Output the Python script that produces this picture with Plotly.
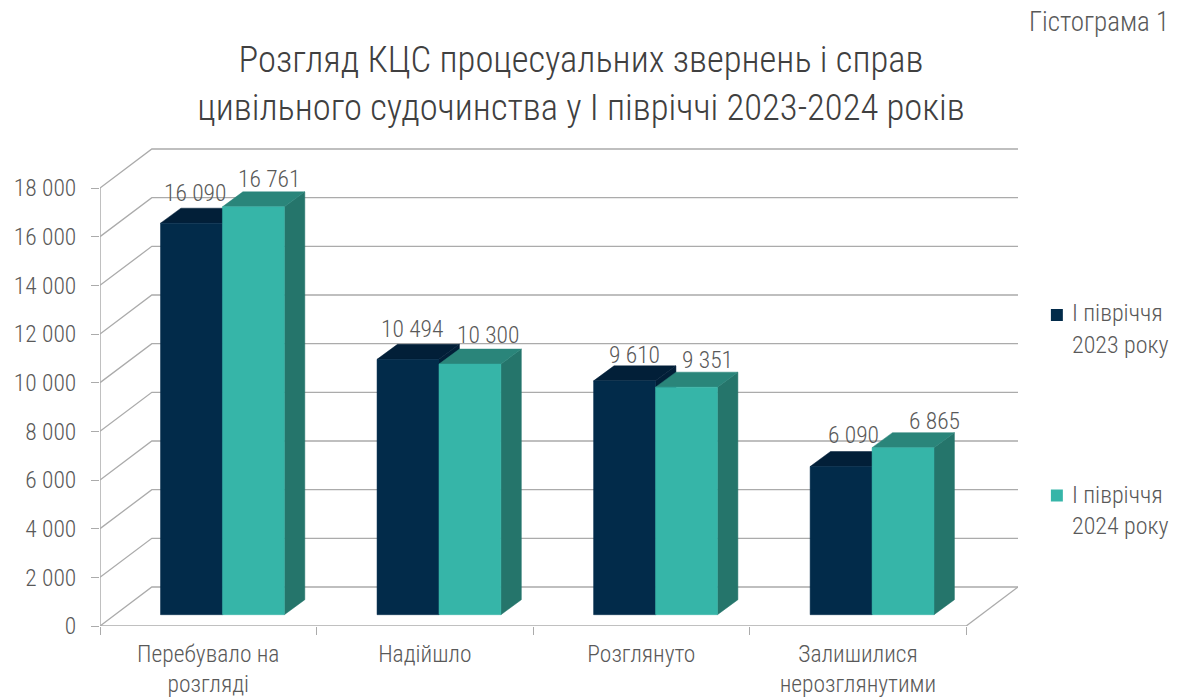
import plotly.graph_objects as go

# ---- data ----
categories = ["Перебувало на<br>розгляді", "Надійшло", "Розглянуто", "Залишилися<br>нерозглянутими"]
series_2023 = [16090, 10494, 9610, 6090]
series_2024 = [16761, 10300, 9351, 6865]
name_2023 = "І півріччя<br>2023 року"
name_2024 = "І півріччя<br>2024 року"
y_ticks = [0, 2000, 4000, 6000, 8000, 10000, 12000, 14000, 16000, 18000]
y_tick_text = ["0", "2 000", "4 000", "6 000", "8 000", "10 000", "12 000", "14 000", "16 000", "18 000"]
title_text = "Розгляд КЦС процесуальних звернень і справ<br>цивільного судочинства у І півріччі 2023-2024 років"
corner_text = "Гістограма 1"
# manual label nudges (px) for each bar's data label
label_dx_2023 = [4, 4, 10, 12]
label_dy_2023 = [30, 30, 26, 32]
label_dx_2024 = [16, 18, 21, 31]
label_dy_2024 = [28, 29, 27, 27]

# ---- style ----
FONT = "Roboto Condensed, Roboto, sans-serif"
WEIGHT = 300
TEXT = "#595959"
GRID = "#ABABAB"
NAVY, NAVY_TOP, NAVY_SIDE = "#022B4A", "#021F38", "#021F38"
TEAL, TEAL_TOP, TEAL_SIDE = "#36B5A8", "#2A857A", "#25756B"

W, H = 1186, 699
M_L, M_R, M_T, M_B = 100, 165, 148, 73
PW, PH = W - M_L - M_R, H - M_T - M_B
PX_PER_CAT = 217.25
PX_PER_UNIT = 438 / 18000
XMAX = PW / PX_PER_CAT
YMAX = PH / PX_PER_UNIT

def ux(px): return px / PX_PER_CAT
def uy(px): return px / PX_PER_UNIT

WALL_DX, WALL_DY = ux(52), uy(39)
FLOOR_DX, FLOOR_DY = 0.0, uy(11.3)
BAR_DX, BAR_DY = ux(20.5), uy(15)
GROUP_START, BAR_W = 0.2794, 0.2860

fig = go.Figure()

# walls + floor grid
gx, gy = [], []
for v in y_ticks:
    gx += [0, WALL_DX, XMAX, None]
    gy += [v, v + WALL_DY, v + WALL_DY, None]
gx += [4, XMAX, None]
gy += [0, WALL_DY, None]
fig.add_trace(go.Scatter(x=gx, y=gy, mode="lines", line=dict(color=GRID, width=1.3),
                         showlegend=False, hoverinfo="skip"))
# axis lines
fig.add_trace(go.Scatter(x=[0, 0, None, 0, 4], y=[0, y_ticks[-1], None, 0, 0], mode="lines",
                         line=dict(color=GRID, width=1.5), showlegend=False, hoverinfo="skip", cliponaxis=False))

def faces(values, slot):
    fx, fy, tx, ty, sx, sy = [], [], [], [], [], []
    for i, v in enumerate(values):
        x0 = i + GROUP_START + slot * BAR_W + FLOOR_DX
        x1 = x0 + BAR_W
        y0 = FLOOR_DY
        y1 = FLOOR_DY + v
        fx += [x0, x1, x1, x0, x0, None]
        fy += [y0, y0, y1, y1, y0, None]
        tx += [x0, x1, x1 + BAR_DX, x0 + BAR_DX, x0, None]
        ty += [y1, y1, y1 + BAR_DY, y1 + BAR_DY, y1, None]
        sx += [x1, x1 + BAR_DX, x1 + BAR_DX, x1, x1, None]
        sy += [y0, y0 + BAR_DY, y1 + BAR_DY, y1, y0, None]
    return (fx, fy), (tx, ty), (sx, sy)

def add_face(xy, color):
    fig.add_trace(go.Scatter(x=xy[0], y=xy[1], mode="lines", fill="toself", fillcolor=color,
                             line=dict(color=color, width=0.5), showlegend=False, hoverinfo="skip"))

for values, slot, cols in [(series_2023, 0, (NAVY, NAVY_TOP, NAVY_SIDE)),
                           (series_2024, 1, (TEAL, TEAL_TOP, TEAL_SIDE))]:
    front, top, side = faces(values, slot)
    add_face(side, cols[2])
    add_face(top, cols[1])
    add_face(front, cols[0])

# legend entries (native text; the swatch sits beside the first line, so it is a shape below)
for nm in [name_2023, name_2024]:
    fig.add_trace(go.Scatter(x=[None], y=[None], mode="markers", name=nm, legendgroup=nm,
                             marker=dict(symbol="square", size=12, color="rgba(0,0,0,0)", line=dict(width=0))))

def px_x(p): return (p - M_L) / PW
def px_y(p): return (H - M_B - p) / PH

for col, top in [(NAVY, 309), (TEAL, 489.5)]:
    fig.add_shape(type="rect", xref="paper", yref="paper", x0=px_x(1054), x1=px_x(1066),
                  y0=px_y(top + 12), y1=px_y(top), fillcolor=col, line=dict(width=0))

# data labels
for values, slot, dxs, dys in [(series_2023, 0, label_dx_2023, label_dy_2023),
                               (series_2024, 1, label_dx_2024, label_dy_2024)]:
    for i, v in enumerate(values):
        fig.add_annotation(x=i + GROUP_START + (slot + 0.5) * BAR_W, y=FLOOR_DY + v, text=f"{v:,}".replace(",", " "),
                           showarrow=False, xshift=dxs[i], yshift=dys[i], xanchor="center", yanchor="middle",
                           font=dict(family=FONT, size=23.5, color=TEXT, weight=WEIGHT))

fig.add_annotation(xref="paper", yref="paper", x=px_x(1175), y=px_y(22), text=corner_text,
                   showarrow=False, xanchor="right", yanchor="middle", font=dict(family=FONT, size=27, color=TEXT, weight=WEIGHT))

fig.update_layout(
    width=W, height=H, autosize=False,
    margin=dict(l=M_L, r=M_R, t=M_T, b=M_B),
    paper_bgcolor="white", plot_bgcolor="white",
    title=dict(text=title_text, x=581 / W, xanchor="center", y=1 - 72 / H, yanchor="middle", automargin=False,
               font=dict(family=FONT, size=36.6, color="#404040", weight=WEIGHT)),
    xaxis=dict(range=[0, XMAX], showgrid=False, zeroline=False, showline=False, automargin=False,
               tickmode="array", tickvals=[i + 0.5 for i in range(len(categories))], ticktext=categories,
               ticks="", tickfont=dict(family=FONT, size=23.5, color=TEXT, weight=WEIGHT), ticklabelstandoff=11,
               minor=dict(tickmode="array", tickvals=list(range(len(categories) + 1)), ticks="outside",
                          ticklen=8, tickcolor=GRID, tickwidth=1.3, showgrid=False)),
    yaxis=dict(range=[0, YMAX], showgrid=False, zeroline=False, showline=False, automargin=False,
               tickmode="array", tickvals=y_ticks, ticktext=y_tick_text, ticks="outside",
               ticklen=8, tickcolor=GRID, tickwidth=1.3, ticklabelstandoff=10,
               tickfont=dict(family=FONT, size=23.5, color=TEXT, weight=WEIGHT)),
    legend=dict(x=px_x(1035), xanchor="left", y=px_y(290), yanchor="top",
                font=dict(family=FONT, size=24, color=TEXT, weight=WEIGHT), tracegroupgap=116, bgcolor="rgba(0,0,0,0)",
                itemwidth=30),
    showlegend=True,
)
fig.write_html("out.html", post_script="document.body.style.margin='0';", config={"displayModeBar": False})
